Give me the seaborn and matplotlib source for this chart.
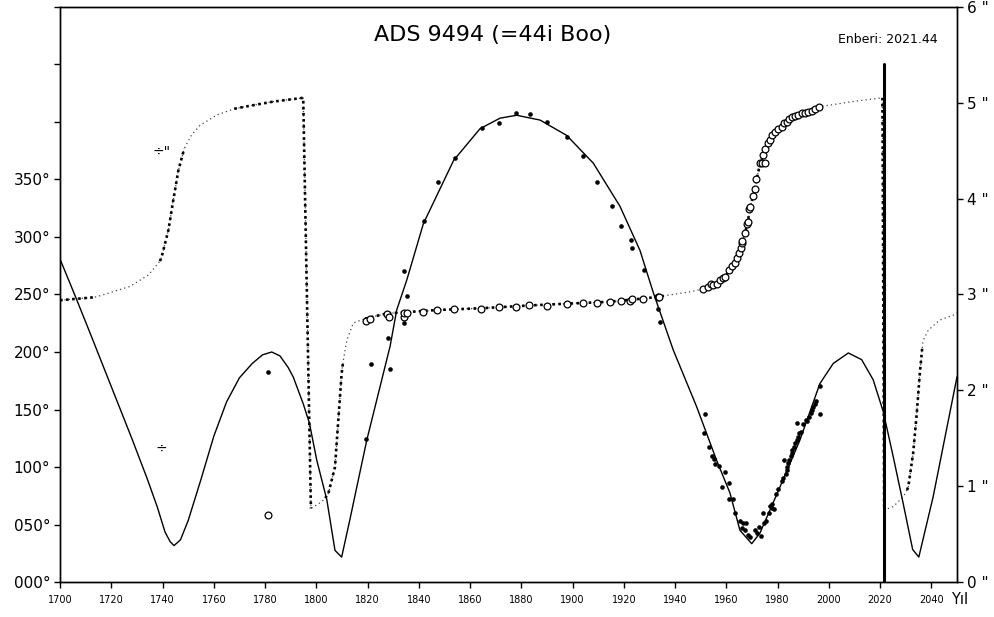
import numpy as np
import pandas as pd
import matplotlib
matplotlib.use("Agg")
import matplotlib.pyplot as plt
import seaborn as sns

# ---------------- data ----------------
# model separation curve (arcsec, right axis)
sep_year = [1700, 1706, 1712, 1720, 1728, 1734, 1738, 1741, 1743, 1744.5, 1747, 1750,
            1755, 1760, 1765, 1770, 1775, 1779, 1782.6, 1785.8, 1789, 1791, 1794.9,
            1797.3, 1800.2, 1804.1, 1807.3, 1809.9, 1813.1, 1819.7, 1824.9, 1828.8,
            1831.4, 1835.3, 1841.8, 1853.6, 1863.9, 1871.7, 1878.2, 1887.3, 1897.7,
            1908.1, 1918.5, 1926.3, 1931.5, 1939.3, 1948.4, 1956.2, 1961.4, 1965.3,
            1969.9, 1973.1, 1980.9, 1988.7, 1996.5, 2001.7, 2007.6, 2012.8, 2017.3,
            2021.2, 2025.1, 2029.0, 2032.7, 2035.1, 2040.7, 2050]
sep_val = [3.37, 2.98, 2.58, 2.04, 1.50, 1.08, 0.78, 0.52, 0.42, 0.38, 0.44, 0.64,
           1.07, 1.52, 1.88, 2.13, 2.28, 2.37, 2.40, 2.36, 2.24, 2.14, 1.86,
           1.66, 1.27, 0.86, 0.33, 0.26, 0.65, 1.48, 2.04, 2.46,
           2.84, 3.15, 3.74, 4.40, 4.73, 4.84, 4.87, 4.82, 4.66,
           4.37, 3.92, 3.46, 3.02, 2.42, 1.83, 1.27, 0.93, 0.54,
           0.40, 0.51, 0.99, 1.48, 2.07, 2.28, 2.39, 2.32, 2.11,
           1.78, 1.31, 0.82, 0.34, 0.26, 0.89, 2.14]

# observed separations (filled dots)
obs_sep_year = [1781.3, 1819.4, 1821.2, 1828.0, 1828.8, 1834.3, 1834.3, 1835.5, 1842.0,
                1847.4, 1854.1, 1864.5, 1871.4, 1877.9, 1883.4, 1890.1, 1897.7, 1904.2,
                1909.6, 1915.2, 1918.9, 1922.8, 1923.3, 1927.9, 1933.4, 1934.1,
                1951.7, 1951.4, 1953.3, 1954.5, 1955.2, 1955.6, 1957.1, 1959.6, 1958.3,
                1961.1, 1961.1, 1962.7, 1963.4, 1965.3, 1966.6, 1967.7, 1966.0, 1967.3,
                1968.5, 1969.2, 1971.2, 1972.1, 1973.4, 1972.9, 1974.4, 1974.7, 1975.5,
                1976.7, 1977.0, 1978.0, 1978.6, 1978.0, 1979.4, 1980.3, 1981.6, 1982.2,
                1982.5, 1983.1, 1983.5, 1983.8, 1984.2, 1984.5, 1985.1, 1985.5, 1985.8,
                1986.4, 1986.8, 1987.4, 1987.9, 1988.4, 1987.4, 1989.2, 1990.0, 1991.0,
                1991.6, 1992.1, 1992.9, 1993.3, 1993.9, 1994.6, 1995.0, 1996.5, 1996.5]
obs_sep_val = [2.19, 1.49, 2.27, 2.55, 2.22, 3.24, 2.70, 2.98, 3.77,
               4.17, 4.42, 4.74, 4.79, 4.89, 4.88, 4.80, 4.64, 4.45,
               4.17, 3.92, 3.71, 3.57, 3.49, 3.26, 2.85, 2.71,
               1.75, 1.56, 1.41, 1.31, 1.28, 1.23, 1.21, 1.15, 0.99,
               1.03, 0.87, 0.87, 0.72, 0.64, 0.62, 0.62, 0.56, 0.54,
               0.49, 0.47, 0.54, 0.51, 0.48, 0.57, 0.72, 0.62, 0.64,
               0.72, 0.79, 0.77, 0.76, 0.81, 0.92, 0.97, 1.05, 1.09,
               1.27, 1.13, 1.17, 1.20, 1.24, 1.27, 1.31, 1.35, 1.38,
               1.41, 1.45, 1.48, 1.51, 1.56, 1.66, 1.57, 1.65, 1.69,
               1.68, 1.72, 1.76, 1.79, 1.83, 1.86, 1.89, 1.75, 2.05]

# model position angle curve (degrees, left axis)
pa_year = [1700, 1713, 1714.3, 1727.3, 1734.5, 1739, 1739.7, 1742.3, 1744.2, 1746.2,
           1748.5, 1751.4, 1754.6, 1761.1, 1768, 1771.5, 1783.2, 1794.9, 1797.9,
           1802.1, 1803.5, 1804.7, 1807.3, 1808.6, 1809.9, 1810.5, 1811.9, 1814.4,
           1817.7, 1819, 1827.5, 1847, 1863.9, 1883.4, 1897.7, 1914.6, 1927.6,
           1933.4, 1936, 1945, 1950, 1951, 1956, 1959.5, 1962.4, 1964.2, 1966,
           1967.3, 1968.5, 1969.5, 1970.8, 1971.8, 1973, 1975, 1977, 1979, 1981.6,
           1985, 1990, 1996, 1997, 2010, 2020.9, 2021.6, 2022, 2025.1, 2029, 2030.5,
           2031, 2032.9, 2034.3, 2035.5, 2036.5, 2036.8, 2038.8, 2043.3, 2048.5, 2050]
pa_val = [245, 247.5, 248, 257, 267, 279, 283, 306, 332, 358,
          377, 389, 397, 406, 411.5, 413, 417.7, 421, 64,
          69.8, 73, 77, 100, 141, 181.5, 192, 210, 225,
          228, 229, 233.5, 236.5, 238, 240.5, 242, 243.7, 246.5,
          248, 249, 252, 254.3, 254.8, 259, 265.5, 274.8, 281.5, 294.5,
          303, 315, 328, 338, 350, 362, 375, 384.5, 391.6, 396,
          403, 408, 413, 413.5, 418, 421, 62.6, 63, 65.5, 74, 80,
          82.9, 112, 146.7, 181.5, 205, 210, 219, 227.8, 232, 234]

# observed position angles (open circles)
obs_pa_year = [1781.3, 1819.4, 1820.9, 1827.7, 1828.5, 1834.2, 1834.2, 1835.3, 1841.8,
               1847.2, 1853.7, 1864.1, 1871.4, 1878.0, 1883.1, 1889.9, 1897.7, 1903.9,
               1909.4, 1914.8, 1918.8, 1922.4, 1923.2, 1927.6, 1933.4, 1933.9,
               1951.0, 1952.9, 1954.2, 1954.9, 1956.2, 1957.5, 1958.6, 1959.5, 1961.1,
               1962.4, 1963.4, 1964.2, 1965.0, 1965.7, 1966.0, 1966.2, 1967.3, 1968.2,
               1968.3, 1968.9, 1969.2, 1970.5, 1971.2, 1971.6, 1973.1, 1974.0, 1975.1,
               1974.2, 1975.1, 1976.4, 1977.0, 1977.9, 1979.0, 1980.3, 1981.6, 1982.5,
               1983.5, 1984.5, 1985.5, 1986.8, 1988.1, 1989.4, 1990.7, 1992.0, 1993.3,
               1994.6, 1996.1]
obs_pa_val = [58, 227, 228.5, 233, 230, 230.2, 233.7, 234.2, 235,
              236.5, 237.7, 237.4, 239, 239.4, 240.6, 240.3, 241.5, 242.4,
              242.4, 243.7, 244, 244.6, 245.8, 246.4, 247.6, 248.2,
              254.8, 256.8, 258.9, 258.3, 259.1, 262.6, 264.1, 265.5, 271.3,
              274.8, 277.7, 281.5, 285.8, 290.2, 294.5, 296.8, 303.2, 311.3,
              313.3, 324.1, 326.4, 335.7, 341.8, 350.2, 364.1, 364.6, 364.1,
              371.3, 376.3, 381.5, 384.4, 388.7, 391.6, 393.7, 395.9, 398.9,
              400.3, 402.4, 404.1, 405.2, 406.4, 407.6, 408.1, 408.7, 409.8,
              411.0, 413.3]

# year spans where the PA curve is drawn with heavy dots
heavy_spans = [(1700, 1713), (1739, 1748.5), (1768, 1797.9), (1803.5, 1810.5),
               (1819, 1936), (1950, 1997), (2020.9, 2022), (2030.5, 2036.5)]

periastron = 2021.44
left_ticks = [0, 50, 100, 150, 200, 250, 300, 350, 400, 450, 500]
left_labels = ["000°", "050°", "100°", "150°", "200°", "250°", "300°", "350°", "", "", ""]
right_ticks = [0, 1, 2, 3, 4, 5, 6]
right_labels = ['0 "', '1 "', '2 "', '3 "', '4 "', '5 "', '6 "']
x_ticks = list(range(1700, 2041, 20))

# ---------------- plot ----------------
sns.set_theme(style="ticks")
plt.rcParams["font.family"] = ["DejaVu Sans"]
plt.rcParams.update({"text.color": "black", "axes.labelcolor": "black",
                     "xtick.color": "black", "ytick.color": "black",
                     "axes.edgecolor": "black"})

fig = plt.figure(figsize=(9.95, 6.17), dpi=100)
ax = fig.add_axes([0.0603, 0.0567, 0.9015, 0.932])
ax2 = ax.twinx()

pa_df = pd.DataFrame({"year": pa_year, "pa": pa_val})
# thin dotted full curve
sns.lineplot(data=pa_df, x="year", y="pa", ax=ax, sort=False, estimator=None,
             color="#444444", linewidth=0.9, linestyle=(0, (1, 2.5)), zorder=2)
# heavy dotted spans
for a, b in heavy_spans:
    seg = pa_df[(pa_df["year"] >= a) & (pa_df["year"] <= b)]
    sns.lineplot(data=seg, x="year", y="pa", ax=ax, sort=False, estimator=None,
                 color="black", linewidth=1.9, linestyle=(0, (1, 1.3)), zorder=3)

sns.scatterplot(x=obs_pa_year, y=obs_pa_val, ax=ax, s=24, facecolor="white",
                edgecolor="black", linewidth=0.9, zorder=4)

ax.axvline(periastron, ymin=0, ymax=0.9, color="black", linewidth=2.2, zorder=5)

sep_df = pd.DataFrame({"year": sep_year, "sep": sep_val})
sns.lineplot(data=sep_df, x="year", y="sep", ax=ax2, sort=False, estimator=None,
             color="black", linewidth=1.0)
sns.scatterplot(x=obs_sep_year, y=obs_sep_val, ax=ax2, s=11, color="black",
                linewidth=0, zorder=4)

ax.set_xlim(1700, 2050)
ax.set_ylim(0, 500)
ax2.set_ylim(0, 6)
ax.set_xticks(x_ticks)
ax.set_xticklabels([str(t) for t in x_ticks], fontsize=7)
ax.set_yticks(left_ticks)
ax.set_yticklabels(left_labels, fontsize=11)
ax2.set_yticks(right_ticks)
ax2.set_yticklabels(right_labels, fontsize=11)
for a_ in (ax, ax2):
    a_.set_xlabel("")
    a_.set_ylabel("")
    a_.tick_params(direction="out", length=4, width=1, color="black", pad=3)
    for sp in a_.spines.values():
        sp.set_color("black")
        sp.set_linewidth(1.0)
ax.tick_params(axis="x", pad=5)

ax.text(0.482, 0.951, "ADS 9494 (=44i Boo)", transform=ax.transAxes,
        ha="center", va="center", fontsize=16)
ax.text(0.9225, 0.9426, "Enberi: 2021.44", transform=ax.transAxes,
        ha="center", va="center", fontsize=9)
ax.text(1739.7, 374, '÷"', ha="center", va="center", fontsize=10)
ax.text(1739.7, 116, "÷", ha="center", va="center", fontsize=10)
fig.text(0.9558, 0.0276, "Yıl", ha="left", va="center", fontsize=10.5)

fig.savefig("out.png", dpi=100, facecolor="white")
